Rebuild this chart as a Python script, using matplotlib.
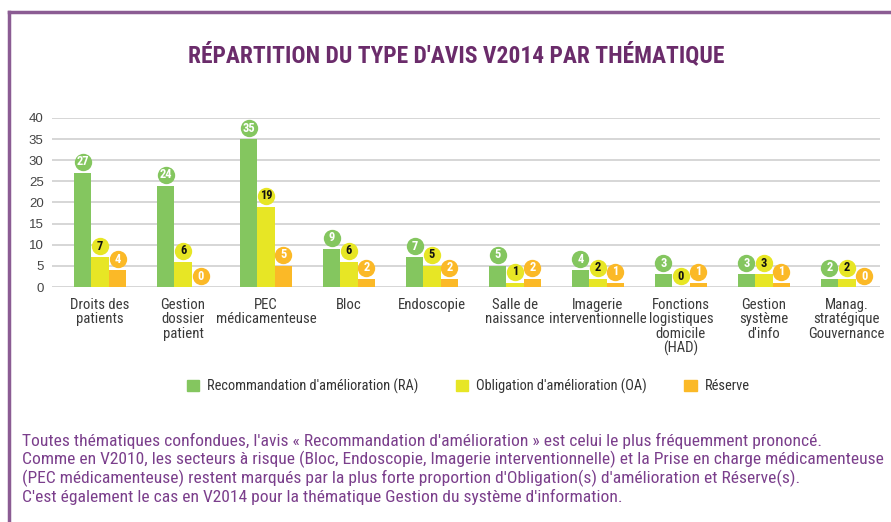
import numpy as np
import matplotlib
matplotlib.use('Agg')
import matplotlib.pyplot as plt
from matplotlib.lines import Line2D
from matplotlib.patches import Patch

categories = ["Droits des\npatients", "Gestion\ndossier\npatient", "PEC\nmédicamenteuse",
              "Bloc", "Endoscopie", "Salle de\nnaissance", "Imagerie\ninterventionnelle",
              "Fonctions\nlogistiques\ndomicile\n(HAD)", "Gestion\nsystème\nd'info",
              "Manag.\nstratégique\nGouvernance"]
ra = [27, 24, 35, 9, 7, 5, 4, 3, 3, 2]
oa = [7, 6, 19, 6, 5, 1, 2, 0, 3, 2]
reserve = [4, 0, 5, 2, 2, 2, 1, 1, 1, 0]
series_names = ["Recommandation d'amélioration (RA)", "Obligation d'amélioration (OA)", "Réserve"]
colors = ["#84c65f", "#e7e625", "#fbb927"]
yticks = [0, 5, 10, 15, 20, 25, 30, 35, 40]

title = "RÉPARTITION DU TYPE D'AVIS V2014 PAR THÉMATIQUE"
note = ("Toutes thématiques confondues, l'avis « Recommandation d'amélioration » est celui le plus fréquemment prononcé.\n"
        "Comme en V2010, les secteurs à risque (Bloc, Endoscopie, Imagerie interventionnelle) et la Prise en charge médicamenteuse\n"
        "(PEC médicamenteuse) restent marqués par la plus forte proportion d'Obligation(s) d'amélioration et Réserve(s).\n"
        "C'est également le cas en V2014 pour la thématique Gestion du système d'information.")

narrow = ['Roboto Condensed', 'Liberation Sans', 'DejaVu Sans']
plt.rcParams['font.family'] = narrow
purple = "#6b2c6b"
border = "#8b5c93"

fig = plt.figure(figsize=(8.91, 5.22), dpi=100)
W, H = 891, 522
ax = fig.add_axes([52 / W, 1 - 287 / H, (880 - 52) / W, (287 - 118) / H])

x = np.arange(len(categories))
bw = 0.21
for k, (vals, c) in enumerate(zip([ra, oa, reserve], colors)):
    xs = x + (k - 1) * bw
    ax.bar(xs, vals, width=bw, color=c, zorder=3)
    for xi, v in zip(xs, vals):
        ax.plot(xi, v + 2.6, 'o', ms=12.5, color=c, mec='none', zorder=4, clip_on=False)
        tc = 'white' if k != 1 else '#111111'
        ax.text(xi, v + 2.6, str(v), ha='center', va='center', fontsize=9,
                fontweight='bold', color=tc, zorder=5)

ax.set_xlim(-0.58, 9.4)
ax.set_ylim(0, 40)
ax.set_yticks(yticks)
ax.yaxis.grid(True, color='#d0d0d0', lw=1.2, zorder=0)
ax.set_xticks(x)
ax.set_xticklabels(categories, fontsize=10.6, color='#3a3a3a', linespacing=1.02)
ax.tick_params(axis='x', length=0, pad=8)
ax.tick_params(axis='y', length=0, labelsize=9.5, labelcolor='#444444', pad=6)
for lab in ax.get_yticklabels():
    lab.set_family(['Liberation Sans', 'DejaVu Sans'])
for s in ax.spines.values():
    s.set_visible(False)

fig.text(456 / W, 1 - 55 / H, title, ha='center', va='center', fontsize=16.9,
         fontweight='bold', color=purple)

handles = [Patch(color=c) for c in colors]
fig.legend(handles, series_names, loc='center', bbox_to_anchor=(468 / W, 1 - 386 / H),
           ncol=3, frameon=False, fontsize=10.4, handlelength=0.85, handleheight=0.85,
           columnspacing=2.6, handletextpad=0.55, labelcolor='#333333')

fig.text(22 / W, 1 - 433 / H, note, ha='left', va='top', fontsize=12.6,
         color="#7b3f8c", linespacing=1.13)

fig.add_artist(Line2D([9 / W, 9 / W], [0, 1 - 12 / H], color=border, lw=2.5))
fig.add_artist(Line2D([9 / W, 1], [1 - 12 / H, 1 - 12 / H], color=border, lw=2.5))

fig.savefig("out.png", dpi=100)
